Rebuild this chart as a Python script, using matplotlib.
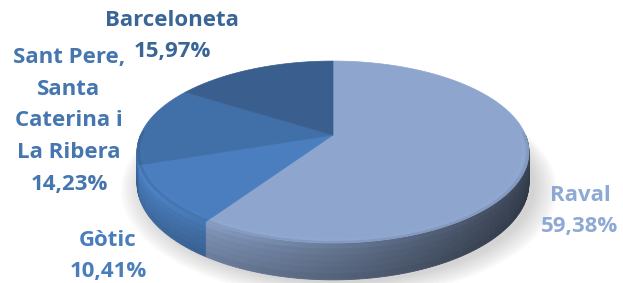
import numpy as np
import matplotlib.pyplot as plt
from matplotlib.colors import to_rgb

# data
districts = ["Raval", "Gòtic", "Sant Pere,\nSanta\nCaterina i\nLa Ribera", "Barceloneta"]
shares = [59.38, 10.41, 14.23, 15.97]
top_colors = ["#8EA6CE", "#4A7EBE", "#416FA7", "#3A5F8E"]
label_colors = ["#8EA9D3", "#4A7DBC", "#4676B0", "#3A6597"]

# label anchors (pixel coords, centre of text block)
label_pos = [(580, 211), (108, 256), (69, 121), (172, 36)]

# pseudo-3D projection of a unit disc
CX, CY, S = 333, 135, 192.5
SE, CE, P, H = 0.456, 0.89, 0.187, 0.175


def proj(theta, z=0.0, r=1.0):
    x = r * np.cos(theta)
    y = r * np.sin(theta)
    w = 1 + P * y
    return CX + S * x / w, CY - S * (y * SE + z * CE) / w


def shade(color, f):
    return tuple(np.clip(np.array(to_rgb(color)) * f, 0, 1))


fig = plt.figure(figsize=(6.23, 2.83), dpi=100)
ax = fig.add_axes([0, 0, 1, 1])
ax.set_xlim(0, 623)
ax.set_ylim(283, 0)
ax.axis("off")

# slice angles, starting at 12 o'clock, clockwise
fracs = np.array(shares) / sum(shares)
edges = np.pi / 2 - 2 * np.pi * np.concatenate([[0], np.cumsum(fracs)])

# soft shadow under the pie
t = np.linspace(0, 2 * np.pi, 200)
for k in range(10):
    sx, sy = proj(t, -H, 1.0 + 0.012 * k)
    ax.fill(sx + 6, sy + 3, color="#808080", alpha=0.035, lw=0, zorder=1)

# side wall
xmin, xmax = CX - 1.02 * S, CX + 1.02 * S
quads = []
for i in range(len(shares)):
    a0, a1 = edges[i + 1], edges[i]
    n = max(int(abs(a1 - a0) / np.radians(1)), 2)
    th = np.linspace(a0, a1, n + 1)
    for j in range(n):
        ta, tb = th[j], th[j + 1]
        tm = 0.5 * (ta + tb)
        if np.sin(tm) > 0:
            continue
        quads.append((np.sin(tm), ta, tb, i))
quads.sort(key=lambda q: -q[0])
band_z = np.linspace(0, -H, 7)
band_f = [1.1, 1.04, 1.0, 0.97, 0.94, 0.9]
for _, ta, tb, i in quads:
    mx, _ = proj(0.5 * (ta + tb))
    f = 0.95 - 0.57 * (mx - xmin) / (xmax - xmin)
    for b in range(6):
        z0, z1 = band_z[b], band_z[b + 1]
        xa0, ya0 = proj(ta, z0)
        xb0, yb0 = proj(tb, z0)
        xb1, yb1 = proj(tb, z1)
        xa1, ya1 = proj(ta, z1)
        c = shade(top_colors[i], f * band_f[b])
        ax.fill([xa0, xb0, xb1, xa1], [ya0, yb0, yb1, ya1], color=c,
                lw=0.6, ec=c, zorder=2)

# top faces
for i in range(len(shares)):
    th = np.linspace(edges[i], edges[i + 1], 200)
    ax_, ay_ = proj(th)
    cx0, cy0 = proj(0.0, 0.0, 0.0)
    xs = np.concatenate([[cx0], ax_])
    ys = np.concatenate([[cy0], ay_])
    ax.fill(xs, ys, color=top_colors[i], lw=0.5, ec=top_colors[i], zorder=3)

# soft rounded rim on the front edge of the top face
for i in range(len(shares)):
    th = np.linspace(edges[i], edges[i + 1], 200)
    th = th[np.sin(th) < 0.05]
    if len(th) < 2:
        continue
    rings = [(0.965, 0.985, 1.04, 0.35), (0.985, 1.0, 0.85, 0.45)]
    for r0, r1, fac, al in rings:
        x0, y0 = proj(th, 0, r0)
        x1, y1 = proj(th[::-1], 0, r1)
        c = shade(top_colors[i], fac)
        ax.fill(np.concatenate([x0, x1]), np.concatenate([y0, y1]),
                color=c, lw=0, alpha=al, zorder=4)

# labels
for name, v, col, (lx, ly) in zip(districts, shares, label_colors, label_pos):
    txt = name + "\n" + f"{v:.2f}".replace(".", ",") + "%"
    ax.text(lx, ly, txt, ha="center", va="center", color=col,
            fontsize=16, fontweight="bold", family="Open Sans",
            linespacing=1.68, zorder=5)

fig.savefig("out.png", dpi=100)
